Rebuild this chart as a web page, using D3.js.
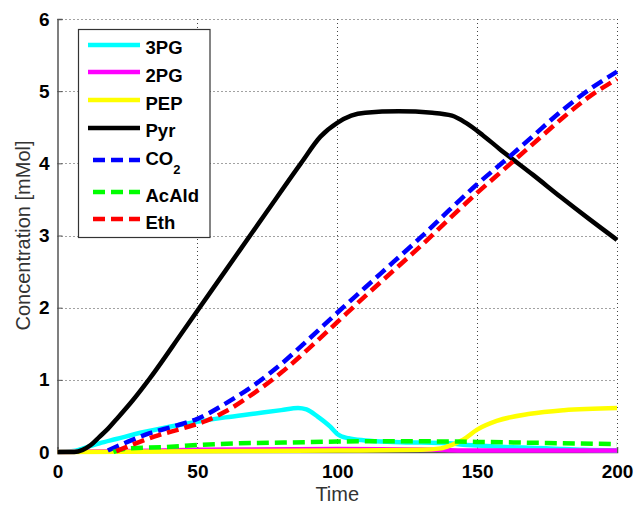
<!DOCTYPE html>
<html>
<head>
<meta charset="utf-8">
<script src="https://cdn.jsdelivr.net/npm/d3@7"></script>
<style>
  body { margin: 0; background: #fff; }
  svg { display: block; }
  text { font-family: "Liberation Sans", Arial, sans-serif; }
</style>
</head>
<body>
<div id="chart"></div>
<script>
// values: [time, concentration]
var pg3 = [[0,0],[5,0.01],[10,0.06],[15,0.12],[21,0.18],[30,0.27],[40,0.35],[50,0.42],[60,0.48],[70,0.53],[80,0.58],[86,0.61],[89,0.59],[93,0.49],[97.5,0.35],[100,0.25],[104,0.19],[110,0.16],[120,0.14],[130,0.13],[140,0.12],[145,0.1],[150,0.09],[160,0.07],[176,0.05],[188,0.03],[200,0.02]];
var pg2 = [[0,0],[20,0.01],[50,0.03],[100,0.04],[130,0.035],[140,0.025],[150,0.02],[200,0.02]];
var pep = [[0,0],[50,0.01],[100,0.02],[130,0.03],[137,0.05],[141,0.1],[145,0.17],[150,0.31],[157,0.43],[169,0.53],[181,0.58],[200,0.61]];
var pyr = [[0,0],[6,0],[9,0.03],[12,0.1],[15,0.21],[18,0.32],[21,0.45],[27,0.72],[33,1.02],[45,1.68],[60,2.51],[75,3.34],[87,4.0],[94,4.37],[100,4.56],[105,4.66],[110,4.7],[122,4.72],[134,4.7],[141,4.66],[146,4.56],[152,4.39],[158,4.2],[170,3.84],[180,3.53],[190,3.23],[200,2.94]];
var co2 = [[18,0.02],[25,0.14],[33,0.26],[42,0.36],[50,0.46],[60,0.67],[70,0.92],[80,1.22],[90,1.57],[100,1.93],[110,2.28],[120,2.63],[130,2.98],[140,3.35],[150,3.71],[160,4.04],[170,4.38],[180,4.72],[190,5.02],[200,5.27]];
var acald = [[20,0],[25,0.05],[39,0.07],[52,0.1],[65,0.12],[81,0.13],[100,0.145],[120,0.15],[150,0.14],[175,0.125],[200,0.11]];
var eth = [[21,0.01],[28,0.12],[36,0.23],[45,0.33],[53,0.43],[60,0.56],[70,0.81],[80,1.1],[90,1.44],[100,1.8],[110,2.16],[120,2.51],[130,2.86],[140,3.23],[150,3.59],[160,3.93],[170,4.27],[180,4.61],[190,4.92],[200,5.17]];

var xTicks = [0, 50, 100, 150, 200];
var yTicks = [0, 1, 2, 3, 4, 5, 6];

var series = [
  {name: "3PG", values: pg3, color: "#00ffff", dashed: false},
  {name: "2PG", values: pg2, color: "#ff00ff", dashed: false},
  {name: "PEP", values: pep, color: "#ffff00", dashed: false},
  {name: "Pyr", values: pyr, color: "#000000", dashed: false},
  {name: "CO2", values: co2, color: "#0000ff", dashed: true},
  {name: "AcAld", values: acald, color: "#00ff00", dashed: true},
  {name: "Eth", values: eth, color: "#ff0000", dashed: true}
];

var width = 636, height = 507;
var margin = {left: 57.5, right: 19, top: 19, bottom: 55};

var svg = d3.select("#chart").append("svg")
  .attr("width", width)
  .attr("height", height);

var x = d3.scaleLinear().domain([0, 200]).range([margin.left, width - margin.right]);
var y = d3.scaleLinear().domain([0, 6]).range([height - margin.bottom, margin.top]);

// dotted grid
var grid = svg.append("g").attr("class", "grid")
  .attr("stroke", "#444").attr("stroke-width", 1).attr("stroke-dasharray", "1,3");
grid.selectAll(".gx").data(xTicks.slice(1)).join("line")
  .attr("x1", d => Math.round(x(d)) + 0.5).attr("x2", d => Math.round(x(d)) + 0.5)
  .attr("y1", y(6)).attr("y2", y(0));
grid.selectAll(".gy").data(yTicks.slice(1)).join("line")
  .attr("x1", x(0)).attr("x2", x(200))
  .attr("y1", d => Math.round(y(d)) + 0.5).attr("y2", d => Math.round(y(d)) + 0.5);

// axes
var xAxis = svg.append("g")
  .attr("transform", `translate(0,${y(0)})`)
  .call(d3.axisBottom(x).tickValues(xTicks).tickSize(-5).tickPadding(12).tickFormat(d3.format("d")));
var yAxis = svg.append("g")
  .attr("transform", `translate(${x(0)},0)`)
  .call(d3.axisLeft(y).tickValues(yTicks).tickSize(-5).tickPadding(8).tickFormat(d3.format("d")));

[xAxis, yAxis].forEach(function(g) {
  g.select(".domain").attr("stroke", "#555").attr("stroke-width", 1.5);
  g.selectAll(".tick line").attr("stroke", "#555");
  g.selectAll(".tick text")
    .attr("fill", "#000")
    .style("font-size", "19px")
    .style("font-weight", "bold")
    .style("font-family", '"Liberation Sans", Arial, sans-serif');
});
xAxis.selectAll(".tick text").attr("dy", "0.72em");

// axis labels
svg.append("text")
  .attr("x", (x(0) + x(200)) / 2)
  .attr("y", 500.5)
  .attr("text-anchor", "middle")
  .attr("fill", "#333")
  .style("font-size", "20px")
  .text("Time");

svg.append("text")
  .attr("transform", `translate(30,${(y(0) + y(6)) / 2}) rotate(-90)`)
  .attr("text-anchor", "middle")
  .attr("fill", "#333")
  .style("font-size", "20px")
  .text("Concentration [mMol]");

// curves
var line = d3.line()
  .x(d => x(d[0]))
  .y(d => y(d[1]))
  .curve(d3.curveMonotoneX);

svg.append("g").attr("class", "lines")
  .selectAll("path").data(series).join("path")
  .attr("d", d => line(d.values))
  .attr("fill", "none")
  .attr("stroke", d => d.color)
  .attr("stroke-width", 4.5)
  .attr("stroke-dasharray", d => d.dashed ? "12,6" : null);

// legend
var legendLineY = [45, 72, 100, 128, 160, 192, 219];
var legendTextY = [53.5, 81.5, 109.5, 137, 165, 201.5, 229];

var legend = svg.append("g").attr("class", "legend");
legend.append("rect")
  .attr("x", 78.5).attr("y", 29.5)
  .attr("width", 131.5).attr("height", 208)
  .attr("fill", "#fff")
  .attr("stroke", "#333")
  .attr("stroke-width", 1.2);

var items = legend.selectAll(".item").data(series).join("g").attr("class", "item");
items.append("line")
  .attr("x1", d => d.dashed ? 93 : 88)
  .attr("x2", 140)
  .attr("y1", (d, i) => legendLineY[i])
  .attr("y2", (d, i) => legendLineY[i])
  .attr("stroke", d => d.color)
  .attr("stroke-width", 4.5)
  .attr("stroke-dasharray", d => d.dashed ? "12,6" : null);

items.append("text")
  .attr("x", 145.5)
  .attr("y", (d, i) => legendTextY[i])
  .attr("fill", "#000")
  .style("font-size", "18.5px")
  .style("font-weight", "bold")
  .each(function(d) {
    var t = d3.select(this);
    if (d.name === "CO2") {
      t.append("tspan").text("CO");
      t.append("tspan").attr("dy", 9).style("font-size", "13px").text("2");
    } else {
      t.text(d.name);
    }
  });
</script>
</body>
</html>
